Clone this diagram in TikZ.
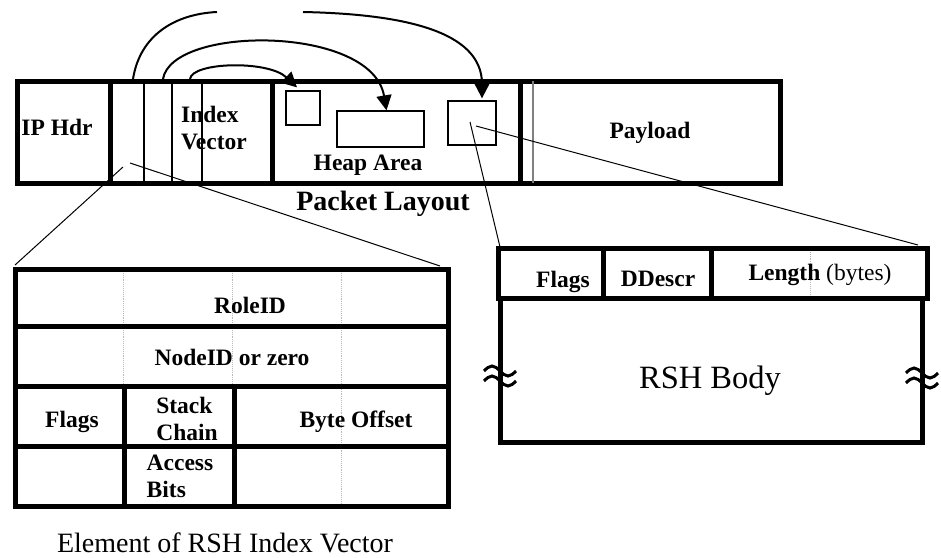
\documentclass[tikz,border=0pt]{standalone}
\usepackage{fontspec}
\setmainfont{Liberation Serif}
\usetikzlibrary{arrows.meta, calc}
\tikzset{
  % thick outline of a field block
  frame/.style={draw, line width=5pt},
  % thin field divider
  divider/.style={draw, line width=1.4pt},
  % faint dotted byte marks
  bytemark/.style={draw=gray!55, densely dotted, line width=0.9pt},
  % small record inside the heap
  heapbox/.style={draw, line width=1.3pt, inner sep=0pt},
  % pointer from an index entry into the heap
  pointer/.style={-{Triangle[length=15pt,width=15pt]}, line width=2pt},
  % magnifying guide line
  guide/.style={line width=1pt},
  % bold field label, placed by its (last) baseline
  field/.style={font=\fontsize{23.5}{27}\selectfont\bfseries,
                inner sep=0pt, align=left, anchor=base},
  % caption text
  caption/.style={font=\fontsize{28}{32}\selectfont, inner sep=0pt, anchor=base},
  brk/.style={line width=3pt},
}
\newcommand{\breakmark}[1]{%
  \draw[brk] (#1) ++(-16,-5) sin ++(8,-5) cos ++(8,5) sin ++(8,5) cos ++(8,-5);
  \draw[brk] (#1) ++(-16,5) sin ++(8,-5) cos ++(8,5) sin ++(8,5) cos ++(8,-5);%
}
\begin{document}
\begin{tikzpicture}[x=1pt, y=-1pt]
  \useasboundingbox (0,0) rectangle (941,557);
  % packet layout
  \draw[frame] (17,81) rectangle (780,183);
  \foreach \x in {110,272,520}
    \draw[frame] (\x,81) -- (\x,183);
  \foreach \x in {144,172,202}
    \draw[divider] (\x,81) -- (\x,183);
  \draw[divider, gray] (533,81) -- (533,183);
  \node[field] (iphdr) at (57,135) {IP Hdr};
  \node[field] (index) at (214,149) {Index\\Vector};
  \node[field] (heap) at (368,170) {Heap Area};
  \node[field] (payload) at (650,138) {Payload};
  \node[caption, font=\fontsize{28}{32}\selectfont\bfseries] (layout)
    at (383,210) {Packet Layout};
  % heap records
  \node[heapbox, minimum width=34pt, minimum height=34pt] (rec1) at (303,108) {};
  \node[heapbox, minimum width=87pt, minimum height=36pt] (rec2) at (380.5,129) {};
  \node[heapbox, minimum width=48pt, minimum height=44pt] (rec3) at (472,123) {};
  % pointers
  \coordinate (ent1) at (133,79);
  \coordinate (ent2) at (163,79);
  \coordinate (ent3) at (190,79);
  \coordinate (gapL) at (217,12);
  \coordinate (gapR) at (303,12);
  \draw[line width=2pt] (ent1) .. controls (140,35) and (175,14) .. (gapL);
  \draw[pointer] (gapR) .. controls (400,14) and (482,30) .. ($(rec3.north)+(10,-2)$);
  \draw[pointer] (ent2) .. controls (172,25) and (372,25) .. ($(rec2.north)+(6,0)$);
  \draw[pointer] (ent3) .. controls (192,62) and (268,60) .. ($(rec1.north)+(-6,-3)$);

  % element of the index vector
  \foreach \x in {123,232}
    \draw[bytemark] (\x,269) -- (\x,386);
  \draw[bytemark] (341,269) -- (341,506);
  \draw[frame] (15,269) rectangle (448,506);
  \foreach \y in {326,386,446}
    \draw[frame] (15,\y) -- (448,\y);
  \foreach \x in {124,234}
    \draw[frame] (\x,386) -- (\x,506);
  \node[field] (roleid) at (250,313) {RoleID};
  \node[field] (nodeid) at (232,365) {NodeID or zero};
  \node[field] (eflags) at (72,427) {Flags};
  \node[field] (stack) at (187,440) {Stack\\Chain};
  \node[field] (access) at (180,497) {Access\\Bits};
  \node[field] (offset) at (356,427) {Byte Offset};
  \node[caption] (elemcap) at (225,552) {Element of RSH Index Vector};

  % RSH header and body
  \draw[bytemark] (810,248) -- (810,298);
  \draw[frame] (498,248) rectangle (927,298);
  \foreach \x in {603,711}
    \draw[frame] (\x,248) -- (\x,298);
  \draw[frame] (500,298) -- (500,442) -- (922,442) -- (922,298);
  \node[field] (hflags) at (563,287) {Flags};
  \node[field] (ddescr) at (658,286) {DDescr};
  \node[field] (hlength) at (820,280) {Length \mdseries(bytes)};
  \node[caption, font=\fontsize{32.5}{36}\selectfont] (body)
    at (710,388) {RSH Body};
  \coordinate (cutL) at (500,376);
  \coordinate (cutR) at (922,378);
  \breakmark{cutL}
  \breakmark{cutR}

  % guide lines
  \coordinate (magA) at (123,167);
  \coordinate (magB) at (130,163);
  \coordinate (magC) at (470,122);
  \coordinate (magD) at (476,126);
  \coordinate (elemNW) at (15,265);
  \coordinate (elemNE) at (440,266);
  \coordinate (rshNW) at (500,247);
  \coordinate (rshNE) at (918,245);
  \draw[guide] (magA) -- (elemNW);
  \draw[guide] (magB) -- (elemNE);
  \draw[guide] (magC) -- (rshNW);
  \draw[guide] (magD) -- (rshNE);
\end{tikzpicture}
\end{document}
